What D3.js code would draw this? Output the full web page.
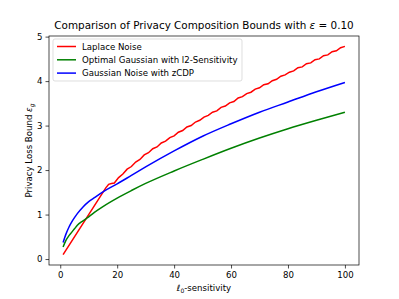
<!DOCTYPE html>
<html>
  <head>
    <meta charset="utf-8">
    <title>Privacy Composition Bounds</title>
    <style>
      body { margin: 0; background: #fff; }
      text { font-family: "DejaVu Sans", sans-serif; fill: #000; }
    </style>
  </head>
  <body>
    <div id="chart"></div>
    <script src="https://d3js.org/d3.v7.min.js"></script>
    <script>
// values
const seriesNames = ['Laplace Noise', 'Optimal Gaussian with l2-Sensitivity', 'Gaussian Noise with zCDP'];
const seriesColors = ['red', 'green', 'blue'];

const laplaceK = [1, 16, 17, 18, 19, 20.5, 22, 23.5, 25, 26.5, 28, 29.5, 31, 32.5, 34, 35.5, 37, 38.5, 40,
  41.5, 43, 44.5, 46, 47.5, 49, 50.5, 52, 53.5, 55, 56.5, 58, 59.5, 61, 62.5, 64, 65.5, 67, 68.5, 70,
  71.5, 73, 74.5, 76, 77.5, 79, 80.5, 82, 83.5, 85, 86.5, 88, 89.5, 91, 92.5, 94, 95.5, 97, 98.5, 100];
const laplaceV = [0.10, 1.60, 1.68, 1.70, 1.71, 1.83, 1.91, 2.02, 2.08, 2.18, 2.24, 2.34, 2.39, 2.48, 2.52, 2.61, 2.65, 2.73, 2.77,
  2.85, 2.89, 2.97, 3.00, 3.08, 3.12, 3.19, 3.23, 3.30, 3.33, 3.41, 3.44, 3.51, 3.54, 3.62, 3.65, 3.72, 3.75, 3.82, 3.85,
  3.92, 3.94, 4.01, 4.04, 4.11, 4.14, 4.20, 4.23, 4.30, 4.32, 4.39, 4.41, 4.48, 4.50, 4.57, 4.59, 4.66, 4.68, 4.75, 4.78];

const gaussK = [1, 2, 3, 4, 5, 6, 8, 10, 12, 15, 20, 25, 30, 40, 50, 60, 70, 80, 90, 100];
const optimalV = [0.27, 0.42, 0.52, 0.60, 0.68, 0.76, 0.86, 0.95, 1.05, 1.18, 1.37, 1.54, 1.70, 1.98, 2.24, 2.49, 2.72, 2.93, 3.12, 3.30];
const zcdpV = [0.37, 0.56, 0.71, 0.83, 0.93, 1.02, 1.17, 1.29, 1.38, 1.51, 1.69, 1.88, 2.07, 2.43, 2.76, 3.04, 3.30, 3.53, 3.76, 3.97];

const xTicks = [0, 20, 40, 60, 80, 100];
const yTicks = [0, 1, 2, 3, 4, 5];

const W = 399, H = 299;
const margin = { top: 36, right: 40, bottom: 34, left: 49 };
const width = W - margin.left - margin.right;
const height = H - margin.top - margin.bottom;

const svg = d3.select('#chart')
  .append('svg')
  .attr('width', W)
  .attr('height', H);

const g = svg.append('g')
  .attr('transform', `translate(${margin.left},${margin.top})`);

const x = d3.scaleLinear().domain([-3.95, 104.95]).range([0, width]);
const y = d3.scaleLinear().domain([-0.134, 5.014]).range([height, 0]);

// axes
const xAxis = g.append('g')
  .attr('transform', `translate(0,${height})`)
  .call(d3.axisBottom(x).tickValues(xTicks).tickSize(3.5).tickPadding(3));
const yAxis = g.append('g')
  .call(d3.axisLeft(y).tickValues(yTicks).tickSize(3.5).tickPadding(3).tickFormat(d3.format('d')));
[xAxis, yAxis].forEach(a => {
  a.select('.domain').remove();
  a.selectAll('text').style('font-family', '"DejaVu Sans", sans-serif').style('font-size', '8.6px').attr('fill', '#000');
  a.selectAll('line').attr('stroke', '#000').attr('stroke-width', 0.7);
});

// lines
const line = d3.line().x(d => x(d[0])).y(d => y(d[1]));
const series = [
  d3.zip(laplaceK, laplaceV),
  d3.zip(gaussK, optimalV),
  d3.zip(gaussK, zcdpV)
];
const curve = [d3.curveLinear, d3.curveMonotoneX, d3.curveMonotoneX];
series.forEach((s, i) => {
  g.append('path')
    .datum(s)
    .attr('fill', 'none')
    .attr('stroke', seriesColors[i])
    .attr('stroke-width', 1.5)
    .attr('d', line.curve(curve[i]));
});

// frame
g.append('rect')
  .attr('width', width)
  .attr('height', height)
  .attr('fill', 'none')
  .attr('stroke', '#000')
  .attr('stroke-width', 0.7);

// legend
const legend = g.append('g').attr('transform', 'translate(4,3)');
legend.append('rect')
  .attr('width', 189)
  .attr('height', 42)
  .attr('rx', 2)
  .attr('fill', '#fff')
  .attr('fill-opacity', 0.8)
  .attr('stroke', '#d0d0d0')
  .attr('stroke-width', 0.7);
seriesNames.forEach((name, i) => {
  const ly = 7.5 + i * 13.3;
  legend.append('line')
    .attr('x1', 4).attr('x2', 23)
    .attr('y1', ly).attr('y2', ly)
    .attr('stroke', seriesColors[i])
    .attr('stroke-width', 1.5);
  legend.append('text')
    .attr('x', 29).attr('y', ly + 3.1)
    .style('font-size', '8.6px')
    .text(name);
});

// title
const title = svg.append('text')
  .attr('x', margin.left + width / 2)
  .attr('y', 29)
  .attr('text-anchor', 'middle')
  .style('font-size', '10.4px');
title.append('tspan').text('Comparison of Privacy Composition Bounds with ');
title.append('tspan').style('font-style', 'italic').text('ε');
title.append('tspan').text(' =  0.10');

// x label
const xl = svg.append('text')
  .attr('x', margin.left + width / 2)
  .attr('y', 291)
  .attr('text-anchor', 'middle')
  .style('font-size', '8.6px');
xl.append('tspan').style('font-style', 'italic').text('ℓ');
xl.append('tspan').attr('dy', 2).style('font-size', '6px').text('0');
xl.append('tspan').attr('dy', -2).text('-sensitivity');

// y label
const yl = svg.append('text')
  .attr('transform', `translate(32,${margin.top + height / 2}) rotate(-90)`)
  .attr('text-anchor', 'middle')
  .style('font-size', '8.6px');
yl.append('tspan').text('Privacy Loss Bound ');
yl.append('tspan').style('font-style', 'italic').text('ε');
yl.append('tspan').attr('dy', 2).style('font-size', '6px').style('font-style', 'italic').text('g');
    </script>
  </body>
</html>
